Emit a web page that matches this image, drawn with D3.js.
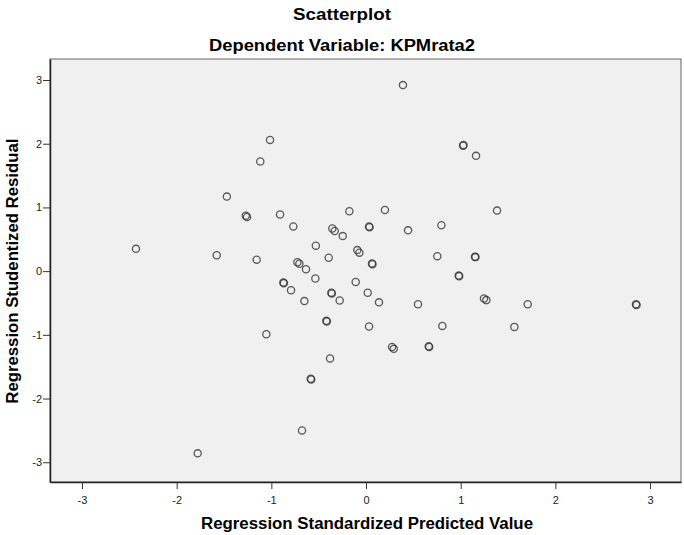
<!DOCTYPE html>
<html>
<head>
<meta charset="utf-8">
<script src="https://cdn.jsdelivr.net/npm/d3@7"></script>
<style>
  body { margin: 0; background: #fff; }
  svg text { font-family: Arial, "Liberation Sans", sans-serif; }
</style>
</head>
<body>
<div id="chart"></div>
<script>
// 予測値（標準化）と残差（スチューデント化）
const predicted = [
  -1.014, -1.117, -1.47, -1.27, -1.257, -0.908, -0.768, -0.356, -0.331, -0.246,
  -0.53, -2.43, -1.577, -1.155, -0.725, -0.704, -0.634, -0.394,
  0.39, 1.025, 1.030, 1.162, -0.176, 0.20, 1.384, 0.032, 0.037, 0.444, 0.796,
  -0.092, -0.07, 0.063, 0.068, 0.753, 1.151, 1.156,
  -0.535, -0.873, -0.868, -0.792, -0.651, -0.366, -0.361, -0.278, -0.419, -0.414,
  -1.053, -0.38, -0.584, -0.579, -0.676, -1.778,
  0.979, 0.984, -0.109, 0.018, 0.137, 0.549, 1.246, 1.271, 1.708, 2.852, 2.857,
  0.032, 0.806, 1.567, 0.275, 0.293, 0.662, 0.667
];
const residual = [
  2.06, 1.72, 1.17, 0.87, 0.85, 0.89, 0.70, 0.67, 0.63, 0.55,
  0.40, 0.35, 0.25, 0.18, 0.14, 0.115, 0.03, 0.21,
  2.92, 1.97, 1.98, 1.81, 0.94, 0.96, 0.95, 0.70, 0.69, 0.64, 0.72,
  0.33, 0.29, 0.12, 0.11, 0.235, 0.225, 0.22,
  -0.115, -0.18, -0.19, -0.30, -0.47, -0.34, -0.35, -0.46, -0.78, -0.79,
  -0.99, -1.37, -1.69, -1.70, -2.50, -2.86,
  -0.07, -0.08, -0.17, -0.34, -0.49, -0.52, -0.43, -0.455, -0.52, -0.52, -0.53,
  -0.87, -0.86, -0.875, -1.19, -1.22, -1.18, -1.19
];
const xTicks = [-3, -2, -1, 0, 1, 2, 3];
const yTicks = [-3, -2, -1, 0, 1, 2, 3];

const width = 684;
const height = 535;
const margin = { top: 59, right: 3, bottom: 53, left: 50 };

const svg = d3.select('#chart')
  .append('svg')
  .attr('width', width)
  .attr('height', height);

// スケール
const x = d3.scaleLinear()
  .domain([-3.338, 3.327])
  .range([margin.left, width - margin.right]);
const y = d3.scaleLinear()
  .domain([-3.31, 3.33])
  .range([height - margin.bottom, margin.top]);

// プロット領域の背景
svg.append('rect')
  .attr('x', margin.left)
  .attr('y', margin.top)
  .attr('width', width - margin.left - margin.right)
  .attr('height', height - margin.top - margin.bottom)
  .attr('fill', '#f0f0f0')
  .attr('stroke', '#666')
  .attr('stroke-width', 1);

// 軸（マイナスはハイフンで表示）
const fmt = d => String(d);
const xAxis = svg.append('g')
  .attr('transform', `translate(0,${height - margin.bottom})`)
  .call(d3.axisBottom(x).tickValues(xTicks).tickSize(7).tickSizeOuter(0).tickFormat(fmt));
const yAxis = svg.append('g')
  .attr('transform', `translate(${margin.left},0)`)
  .call(d3.axisLeft(y).tickValues(yTicks).tickSize(7).tickSizeOuter(0).tickFormat(fmt));

[xAxis, yAxis].forEach(g => {
  g.select('.domain').attr('stroke', '#222').attr('stroke-width', 1.5);
  g.selectAll('.tick line').attr('stroke', '#333');
  g.selectAll('.tick text')
    .attr('fill', '#222')
    .style('font-size', '11px');
});
xAxis.selectAll('.tick text').attr('dy', '1.1em');
yAxis.selectAll('.tick text').attr('x', -8);

// 点
svg.append('g')
  .selectAll('circle')
  .data(predicted.map((p, i) => ({ p: p, r: residual[i] })))
  .enter()
  .append('circle')
  .attr('cx', d => x(d.p))
  .attr('cy', d => y(d.r))
  .attr('r', 3.6)
  .attr('fill', 'none')
  .attr('stroke', '#333')
  .attr('stroke-opacity', 0.8)
  .attr('stroke-width', 1.3);

// タイトル
svg.append('text')
  .attr('x', width / 2)
  .attr('y', 20)
  .attr('text-anchor', 'middle')
  .style('font-size', '16px')
  .style('font-weight', 'bold')
  .attr('textLength', 98)
  .attr('lengthAdjust', 'spacingAndGlyphs')
  .text('Scatterplot');
svg.append('text')
  .attr('x', width / 2)
  .attr('y', 51)
  .attr('text-anchor', 'middle')
  .style('font-size', '16px')
  .style('font-weight', 'bold')
  .attr('textLength', 266)
  .attr('lengthAdjust', 'spacingAndGlyphs')
  .text('Dependent Variable: KPMrata2');

// 軸タイトル
svg.append('text')
  .attr('x', 367)
  .attr('y', 529)
  .attr('text-anchor', 'middle')
  .style('font-size', '16px')
  .style('font-weight', 'bold')
  .attr('textLength', 332)
  .attr('lengthAdjust', 'spacingAndGlyphs')
  .text('Regression Standardized Predicted Value');
svg.append('text')
  .attr('transform', `translate(18,${y(0)}) rotate(-90)`)
  .attr('text-anchor', 'middle')
  .style('font-size', '16px')
  .style('font-weight', 'bold')
  .attr('textLength', 265)
  .attr('lengthAdjust', 'spacingAndGlyphs')
  .text('Regression Studentized Residual');
</script>
</body>
</html>
